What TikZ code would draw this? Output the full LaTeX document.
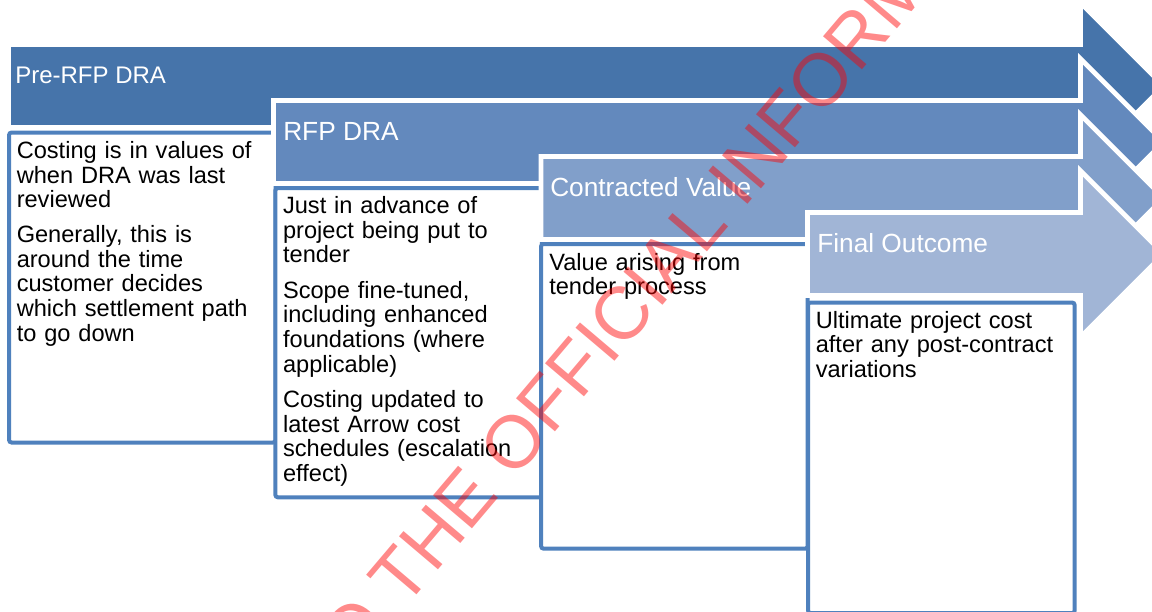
\documentclass[tikz,border=0pt]{standalone}
\usepackage{fontspec}
\setmainfont{Liberation Sans}
\usetikzlibrary{positioning}
\definecolor{pfeilA}{RGB}{70,116,170}
\definecolor{pfeilB}{RGB}{99,137,189}
\definecolor{pfeilC}{RGB}{129,159,202}
\definecolor{pfeilD}{RGB}{161,181,214}
\definecolor{rahmen}{RGB}{79,129,189}
\begin{document}
\begin{tikzpicture}[x=0.75pt,y=-0.75pt]
			\tikzset{pfeil/.style={fill=#1, draw=white, line width=3.5pt, line join=miter},
				kasten/.style={draw=rahmen, fill=white, line width=3pt, rounded corners=2pt, anchor=north west, outer sep=0pt, inner sep=0pt, minimum width=200pt},
				titel/.style={anchor=base west, inner sep=0pt, text=white, font=\fontsize{19.7pt}{20pt}\selectfont},
				inhalt/.style={anchor=base west, inner sep=0pt, text width=200pt, align=left, font=\fontsize{17.7pt}{18.5pt}\selectfont},
				stempel/.style={anchor=base west, inner sep=0pt, text=red, text opacity=0.46, font=\fontsize{55.7pt}{60pt}\selectfont}}

			\useasboundingbox (0,0) rectangle (1152,611);
			\clip (0,0) rectangle (1152,611);

			\path[pfeil=pfeilA] (8.5,44.5) -- (1080.5,44.5) -- (1080.5,2.8) -- (1163.7,86) -- (1080.5,169.2) -- (1080.5,127.5) -- (8.5,127.5) -- cycle;
			\node[titel, font=\fontsize{18pt}{18.5pt}\selectfont] at (15,83.5) (n1) {Pre-RFP DRA};
			\node[kasten, minimum height=232.5pt] at (9,132.5) (k1) {};
			\node[inhalt] at ([shift={(7.5,26)}]k1.north west) (t1) {Costing is in values of\\when DRA was last\\reviewed\\[7.5pt]Generally, this is\\around the time\\customer decides\\which settlement path\\to go down};

			\path[pfeil=pfeilB] (273.5,100.5) -- (1080.5,100.5) -- (1080.5,58.8) -- (1163.7,142) -- (1080.5,225.2) -- (1080.5,183.5) -- (273.5,183.5) -- cycle;
			\node[titel] at (283,140) (n2) {RFP DRA};
			\node[kasten, minimum height=232pt] at (275.3,188) (k2) {};
			\node[inhalt] at ([shift={(7.5,25.5)}]k2.north west) (t2) {Just in advance of\\project being put to\\tender\\[8pt]Scope fine-tuned,\\including enhanced\\foundations (where\\applicable)\\[8pt]Costing updated to\\latest Arrow cost\\schedules (escalation\\effect)};

			\path[pfeil=pfeilC] (541,156.5) -- (1080.5,156.5) -- (1080.5,114.8) -- (1163.7,198) -- (1080.5,281.2) -- (1080.5,239.5) -- (541,239.5) -- cycle;
			\node[titel] at (550,196.5) (n3) {Contracted Value};
			\node[kasten, minimum height=228.5pt] at (541,244) (k3) {};
			\node[inhalt] at ([shift={(8,26)}]k3.north west) (t3) {Value arising from\\tender process};

			\path[pfeil=pfeilD] (807.5,212.5) -- (1080.5,212.5) -- (1080.5,170.8) -- (1163.7,254) -- (1080.5,337.2) -- (1080.5,295.5) -- (807.5,295.5) -- cycle;
			\node[titel] at (817,252) (n4) {Final Outcome};
			\node[kasten, minimum height=233pt] at (808,302.5) (k4) {};
			\node[inhalt] at ([shift={(7.5,25.8)}]k4.north west) (t4) {Ultimate project cost\\after any post-contract\\variations};

			\node[stempel, rotate=49.7] at (325.5,702.8) (wz) {TO THE OFFICIAL INFORM};
		\end{tikzpicture}
\end{document}
